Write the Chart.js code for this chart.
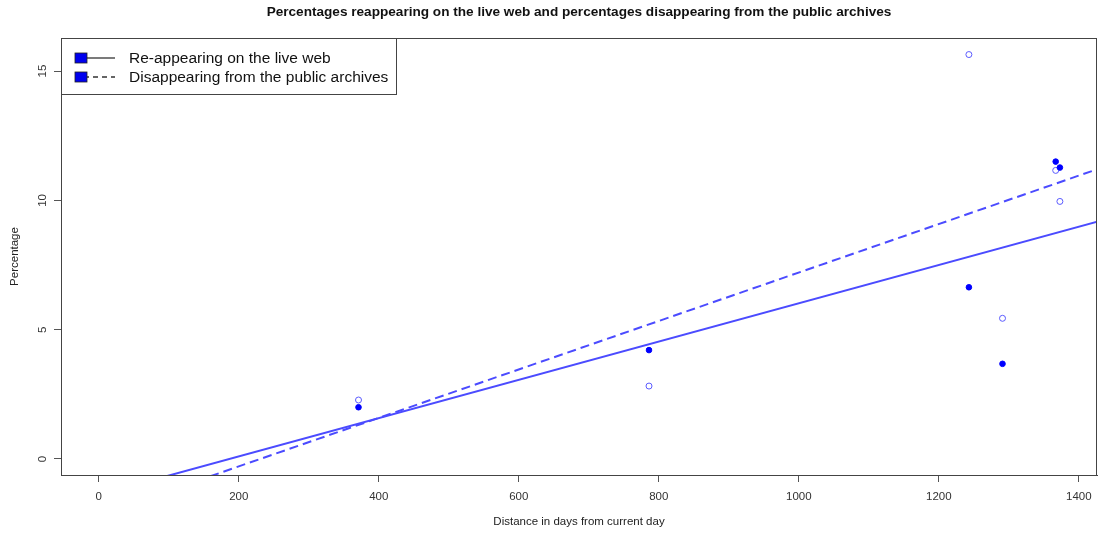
<!DOCTYPE html>
<html>
<head>
<meta charset="utf-8">
<script src="https://cdn.jsdelivr.net/npm/chart.js@4.4.1/dist/chart.umd.min.js"></script>
<style>
  html, body { margin: 0; padding: 0; background: #fff; }
  #wrap { width: 1102px; height: 533px; }
</style>
</head>
<body>
<div id="wrap"><canvas id="graf"></canvas></div>
<script>
// values
const days = [371, 786, 1243, 1291, 1367, 1373];
const reappearing = [2.0, 4.21, 6.64, 3.68, 11.5, 11.27];
const disappearing = [2.28, 2.82, 15.64, 5.44, 11.16, 9.96];
const xTicks = [0, 200, 400, 600, 800, 1000, 1200, 1400];
const yTicks = [0, 5, 10, 15];
const seriesNames = ['Re-appearing on the live web', 'Disappearing from the public archives'];
const chartTitle = 'Percentages reappearing on the live web and percentages disappearing from the public archives';

const lineBlue = '#4b4bff';

// least squares fit, like abline(lm(y ~ x))
function fit(xs, ys) {
    const n = xs.length;
    const mx = xs.reduce((a, b) => a + b, 0) / n;
    const my = ys.reduce((a, b) => a + b, 0) / n;
    let sxy = 0, sxx = 0;
    for (let i = 0; i < n; i++) {
        sxy += (xs[i] - mx) * (ys[i] - my);
        sxx += (xs[i] - mx) * (xs[i] - mx);
    }
    const b = sxy / sxx;
    const a = my - b * mx;
    return [-200, 1600].map(x => ({ x: x, y: a + b * x }));
}

const pts = (ys) => days.map((d, i) => ({ x: d, y: ys[i] }));

// frame, title and R style legend
const rStuff = {
    id: 'rStuff',
    afterDraw(chart) {
        const c = chart.ctx;
        const a = chart.chartArea;
        c.save();
        c.strokeStyle = '#444';
        c.lineWidth = 1;
        c.strokeRect(a.left + 0.5, a.top + 0.5, a.right - a.left - 1, a.bottom - a.top);

        c.fillStyle = '#111';
        c.font = 'bold 13.6px "Liberation Sans", Arial, sans-serif';
        c.textAlign = 'center';
        c.textBaseline = 'middle';
        c.fillText(chartTitle, (a.left + a.right) / 2, 12);

        // legend box
        const lx = a.left + 0.5, ly = a.top + 0.5;
        c.fillStyle = '#fff';
        c.fillRect(lx, ly, 335, 56);
        c.strokeStyle = '#444';
        c.strokeRect(lx, ly, 335, 56);
        c.font = '15.5px "Liberation Sans", Arial, sans-serif';
        c.textAlign = 'left';
        seriesNames.forEach((name, i) => {
            const y = 58 + i * 19;
            c.strokeStyle = '#333';
            c.lineWidth = 1.3;
            c.setLineDash(i === 0 ? [] : [5, 4]);
            c.beginPath();
            c.moveTo(84, y);
            c.lineTo(115, y);
            c.stroke();
            c.setLineDash([]);
            c.fillStyle = '#0000ee';
            c.fillRect(75, y - 5, 12, 10);
            c.strokeStyle = '#222';
            c.lineWidth = 0.8;
            c.strokeRect(75, y - 5, 12, 10);
            c.fillStyle = '#111';
            c.fillText(name, 129, y + 1);
        });
        c.restore();
    }
};

const ctx = document.querySelector('#graf');
const tickFont = { size: 11.5, family: '"Liberation Sans", Arial' };

let myChart = new Chart(ctx, {
    type: 'scatter',
    data: {
        datasets: [{
            label: seriesNames[0],
            data: pts(reappearing),
            pointRadius: 2.8,
            pointBackgroundColor: '#0000ff',
            pointBorderColor: '#0000ff',
            pointBorderWidth: 1
        }, {
            label: seriesNames[1],
            data: pts(disappearing),
            pointRadius: 3,
            pointBackgroundColor: 'rgba(255,255,255,0)',
            pointBorderColor: '#5a5aff',
            pointBorderWidth: 1
        }, {
            type: 'line',
            label: 'fit 1',
            data: fit(days, reappearing),
            borderColor: lineBlue,
            borderWidth: 2,
            pointRadius: 0,
            fill: false
        }, {
            type: 'line',
            label: 'fit 2',
            data: fit(days, disappearing),
            borderColor: lineBlue,
            borderWidth: 2,
            borderDash: [9, 5],
            pointRadius: 0,
            fill: false
        }]
    },
    options: {
        responsive: true,
        maintainAspectRatio: false,
        animation: false,
        layout: { padding: { top: 38, right: 4, left: 0, bottom: 0 } },
        plugins: {
            legend: { display: false },
            tooltip: { enabled: false }
        },
        scales: {
            x: {
                type: 'linear',
                min: -54,
                max: 1426,
                afterBuildTicks: (s) => { s.ticks = xTicks.map(v => ({ value: v })); },
                afterFit: (s) => { s.height = 58; },
                grid: { drawOnChartArea: false, drawTicks: true, tickLength: 7, color: '#555' },
                border: { display: true, color: '#444' },
                ticks: { color: '#333', font: tickFont, padding: 8, maxRotation: 0, callback: (v) => String(v) },
                title: {
                    display: true,
                    text: 'Distance in days from current day',
                    color: '#222',
                    font: tickFont,
                    padding: { top: 0, bottom: 4 }
                }
            },
            y: {
                type: 'linear',
                min: -0.62,
                max: 16.28,
                afterBuildTicks: (s) => { s.ticks = yTicks.map(v => ({ value: v })); },
                afterFit: (s) => { s.width = 61; },
                grid: { drawOnChartArea: false, drawTicks: true, tickLength: 7, color: '#555' },
                border: { display: true, color: '#444' },
                ticks: { color: '#333', font: tickFont, padding: 5, minRotation: 90, maxRotation: 90, crossAlign: 'center', callback: (v) => String(v) },
                title: {
                    display: true,
                    text: 'Percentage',
                    color: '#222',
                    font: tickFont,
                    padding: { top: 8, bottom: 0 }
                }
            }
        }
    },
    plugins: [rStuff]
});
</script>
</body>
</html>
